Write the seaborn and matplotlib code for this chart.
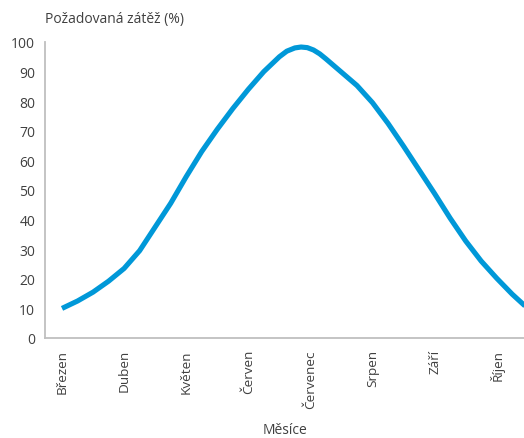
import numpy as np
import pandas as pd
import matplotlib
matplotlib.use("Agg")
import matplotlib.pyplot as plt
import seaborn as sns

# ------------- Data -------------
mesice = ["Březen", "Duben", "Květen", "Červen", "Červenec", "Srpen", "Září", "Říjen"]

# position along the month axis (0 = Březen) and required load
poloha = [0, 0.25, 0.5, 0.75, 1.0, 1.25, 1.5, 1.75, 2.0, 2.25, 2.5, 2.75, 3.0, 3.25,
          3.5, 3.62, 3.75, 3.85, 3.95, 4.05, 4.15, 4.25, 4.5, 4.75, 5.0, 5.25, 5.5,
          5.75, 6.0, 6.25, 6.5, 6.75, 7.0, 7.25, 7.5]
zatez = [10, 12.5, 15.5, 19.2, 23.5, 29.5, 37.5, 45.5, 54.5, 63, 70.5, 77.5, 84, 90,
         95, 96.9, 98, 98.3, 98.1, 97.3, 96, 94.3, 89.8, 85.3, 79.5, 72.5, 64.8,
         56.8, 48.8, 40.5, 32.8, 26, 20.2, 14.8, 10]

df = pd.DataFrame({"poloha": poloha, "zatez": zatez})

# ------------- Plot -------------
sns.set_theme(style="white")
plt.rcParams["font.family"] = ["Open Sans", "DejaVu Sans"]

text_color = "#404040"
axis_color = "#bfbfbf"

fig = plt.figure(figsize=(5.24, 4.39), dpi=100)
ax = fig.add_axes([45 / 524, 1 - 339 / 439, 479 / 524, 296 / 439])

sns.lineplot(data=df, x="poloha", y="zatez", ax=ax, color="#0098d8",
             linewidth=3.7, solid_capstyle="butt", solid_joinstyle="round")

ax.set_xlim(-0.274, 7.44)
ax.set_ylim(0, 100)
ax.set_yticks(range(0, 101, 10))
ax.set_xticks(range(len(mesice)))
ax.set_xticklabels(mesice, rotation=90, color=text_color, fontsize=9.7)
ax.tick_params(axis="y", labelsize=10, labelcolor=text_color, length=0, pad=7)
ax.tick_params(axis="x", length=0, pad=8)

for side in ["top", "right"]:
    ax.spines[side].set_visible(False)
for side in ["left", "bottom"]:
    ax.spines[side].set_color(axis_color)
    ax.spines[side].set_linewidth(1.3)

ax.set_ylabel("")
ax.set_xlabel("Měsíce", color=text_color, fontsize=10)
ax.xaxis.set_label_coords(0.5, -0.285)
fig.text(45 / 524, 1 - 20 / 439, "Požadovaná zátěž (%)", color=text_color,
         fontsize=10, va="center", ha="left")

plt.savefig("out.png", dpi=100)
